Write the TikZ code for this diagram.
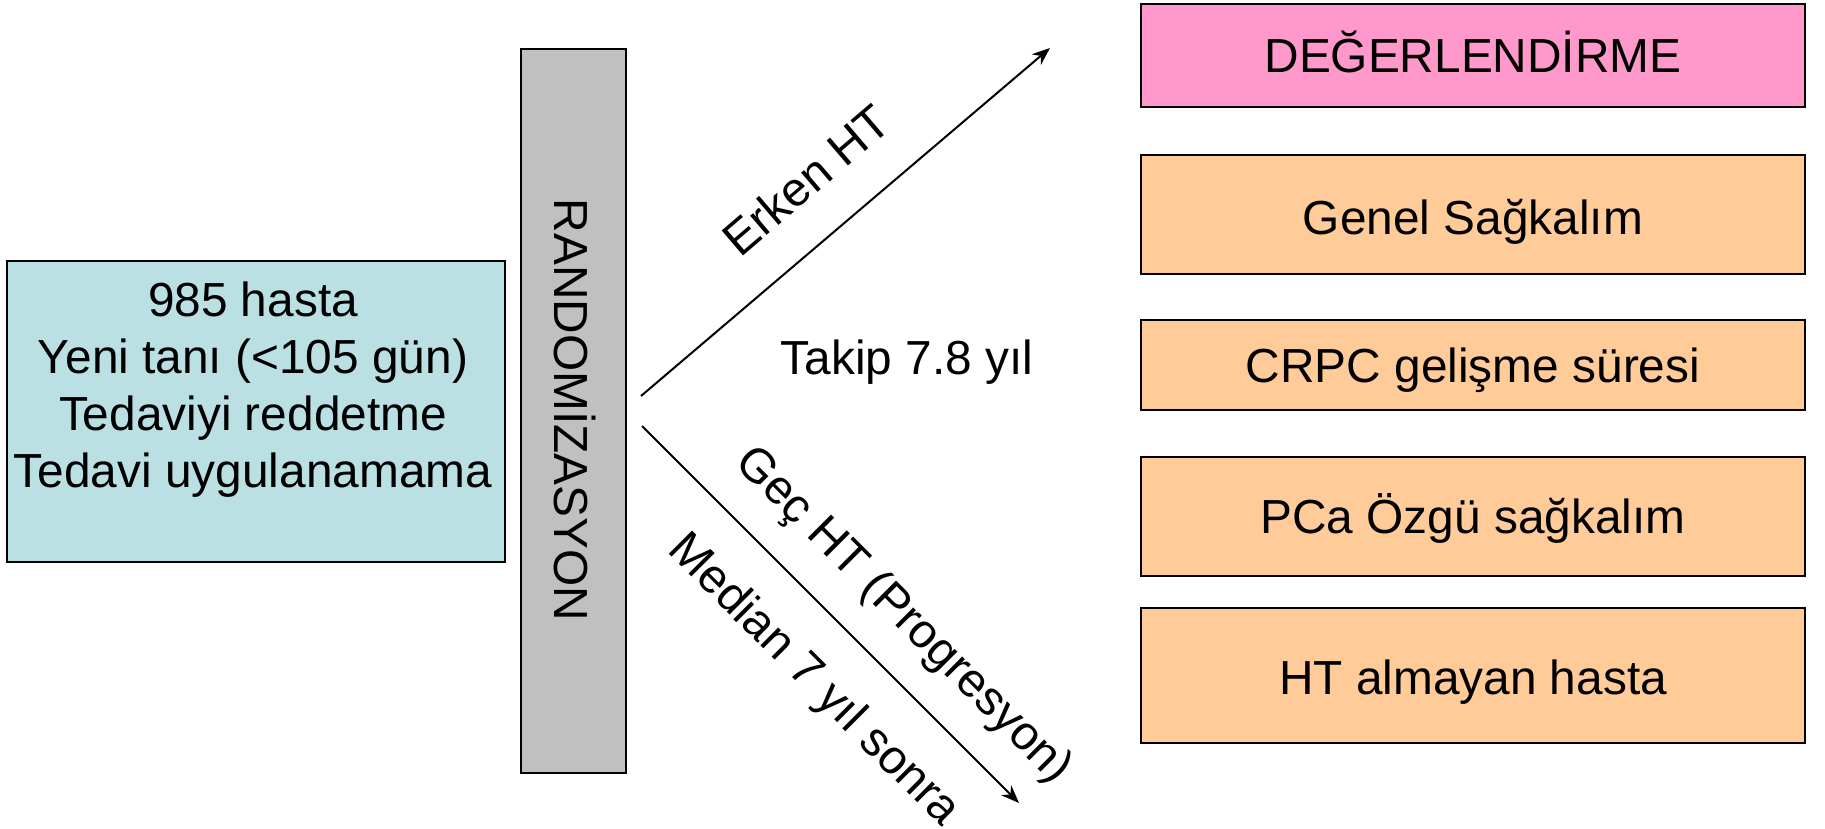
\documentclass[tikz,border=0pt]{standalone}
\usepackage{fontspec}
\setmainfont{Liberation Sans}
\usetikzlibrary{arrows.meta}
\definecolor{ptsblue}{RGB}{187,224,227}
\definecolor{randgray}{RGB}{192,192,192}
\definecolor{evalpink}{RGB}{255,153,204}
\definecolor{outorange}{RGB}{255,204,153}
\tikzset{
  boxstyle/.style={draw=black, line width=2.5pt, rectangle, inner sep=0pt, align=center},
  outbox/.style={boxstyle, fill=outorange, minimum width=664pt, text height=34pt, text depth=0pt},
  arrowline/.style={line width=2pt, -{Stealth[length=18pt,width=14pt]}},
  lbl/.style={inner sep=0pt, anchor=center}
}
\begin{document}
\begin{tikzpicture}[x=1pt,y=-1pt]
\fontsize{47.8}{57}\selectfont
\useasboundingbox (0,0) rectangle (1825,829);
% left box
\node[boxstyle, fill=ptsblue, minimum width=498pt, minimum height=301pt] (pts) at (256,411.5) {};
\node[lbl, anchor=north, align=center] (ptstext) at (253,282) {985 hasta\\Yeni tanı (<105 gün)\\Tedaviyi reddetme\\Tedavi uygulanamama};
% randomization bar
\node[boxstyle, fill=randgray, minimum width=105pt, minimum height=724pt] (rand) at (573.5,411) {};
\node[lbl, rotate=-90] (randtext) at (575,410) {RANDOMİZASYON};
% outcome boxes
\node[boxstyle, fill=evalpink, minimum width=664pt, minimum height=103pt, text height=34pt, text depth=0pt] (deg) at (1473,55.5) {DEĞERLENDİRME};
\node[outbox, minimum height=119pt] (genel) at (1473,214.5) {\raisebox{-3pt}{Genel Sağkalım}};
\node[outbox, minimum height=90pt] (crpc) at (1473,365) {CRPC gelişme süresi};
\node[outbox, minimum height=119pt] (pca) at (1473,516.5) {PCa Özgü sağkalım};
\node[outbox, minimum height=135pt] (htal) at (1473,675.5) {\raisebox{-2pt}{HT almayan hasta}};
% arrows
\coordinate (upS) at (641,396);
\coordinate (upE) at (1050,48);
\coordinate (dnS) at (642,426);
\coordinate (dnE) at (1019,803);
\draw[arrowline] (upS) -- (upE);
\draw[arrowline] (dnS) -- (dnE);
% labels
\node[lbl, rotate=40.5] (erken) at (806,180) {Erken HT};
\node[lbl] (takip) at (907,362) {Takip 7.8 yıl};
\node[lbl, rotate=-45] (gec) at (903,616) {Geç HT (Progresyon)};
\node[lbl, rotate=-45] (median) at (813,681) {Median 7 yıl sonra};
\end{tikzpicture}
\end{document}
